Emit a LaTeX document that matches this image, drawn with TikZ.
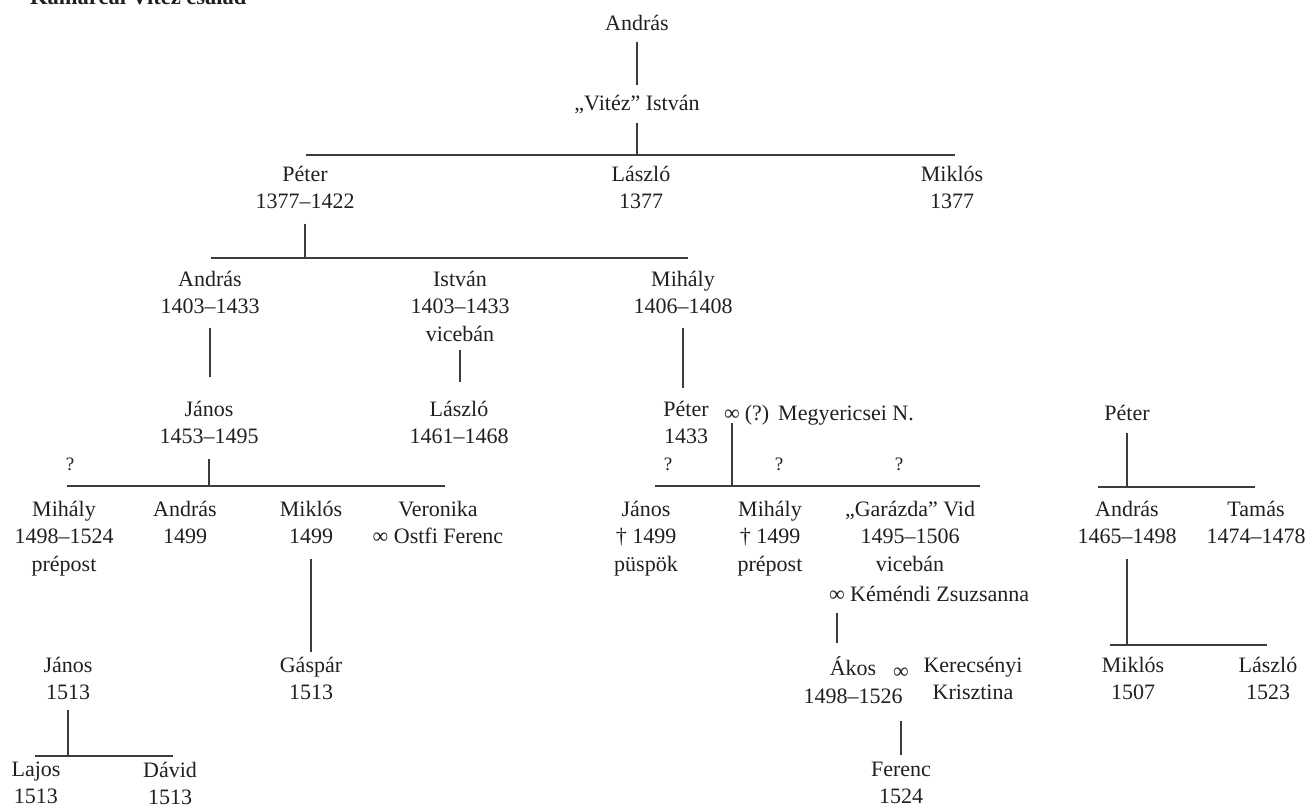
\documentclass[tikz,border=0pt]{standalone}
\usepackage{fontspec}
\setmainfont{Liberation Serif}
\definecolor{txt}{RGB}{35,31,32}
\definecolor{ln}{RGB}{60,60,60}
\newcommand\nf{\fontsize{22}{27.5}\selectfont}
\newcommand\qf{\fontsize{19}{22}\selectfont}
\newcommand\tf{\fontsize{22.5}{27}\selectfont\bfseries}
\begin{document}
\begin{tikzpicture}[x=1pt,y=-1pt,
  nm/.style={anchor=north, inner sep=0pt, outer sep=0pt, align=center, font=\nf, text=txt,
    yshift=19.25pt, execute at begin node=\strut, execute at end node=\strut},
  qm/.style={anchor=base, inner sep=0pt, font=\qf, text=txt},
  conn/.style={draw=ln, line width=1.3pt}]
\path[use as bounding box, fill=white] (0,0) rectangle (1305,811);

% title
\node[anchor=base west, inner sep=0pt, font=\tf, text=txt] (title) at (30,5) {Kamarcai Vitéz család};

% generation 1-2
\node[nm] (a0) at (637,31) {András};
\node[nm] (a1) at (637,110) {„Vitéz” István};
\draw[conn, shorten <=3pt, shorten >=6pt] (a0.south) -- (a1.north);

% bus 1
\coordinate (b1l) at (306,155);
\coordinate (b1r) at (955,155);
\draw[conn] (b1l) -- (b1r);
\draw[conn, shorten <=5pt] (a1.south) -- (a1.south |- b1l);

\node[nm] (b1) at (305,185) {Péter\\1377–1422};
\node[nm] (b2) at (641,185) {László\\1377};
\node[nm] (b3) at (952,185) {Miklós\\1377};

% bus 2
\coordinate (b2l) at (211,258);
\coordinate (b2r) at (688,258);
\draw[conn] (b2l) -- (b2r);
\draw[conn, shorten <=7pt] (b1.south) -- (b1.south |- b2l);

\node[nm] (c1) at (210,290) {András\\1403–1433};
\node[nm] (c2) at (460,290) {István\\1403–1433\\vicebán};
\node[nm] (c3) at (683,290) {Mihály\\1406–1408};

\node[nm] (d1) at (209,420) {János\\1453–1495};
\node[nm] (d2) at (459,420) {László\\1461–1468};
\node[nm] (d3) at (686,420) {Péter\\1433};
\node[nm] (d3m) at (732,420) {∞};
\node[nm] (d3q) at (757,420) {(?)};
\node[nm] (d3w) at (846,420) {Megyericsei N.};
\node[nm] (d4) at (1127,420) {Péter};

\draw[conn, shorten <=6pt, shorten >=24pt] (c1.south) -- (c1.south |- d1.north);
\draw[conn, shorten <=1pt, shorten >=19pt] (c2.south) -- (c2.south |- d2.north);
\draw[conn, shorten <=6pt, shorten >=13pt] (c3.south) -- (c3.south |- d3.north);

% question marks
\node[qm] (q1) at (70,470) {?};
\node[qm] (q2) at (668,470) {?};
\node[qm] (q3) at (779,470) {?};
\node[qm] (q4) at (899,470) {?};

% bus 3
\coordinate (b3l) at (67,486);
\coordinate (b3lr) at (445,486);
\draw[conn] (b3l) -- (b3lr);
\draw[conn, shorten <=7pt] (d1.south) -- (d1.south |- b3l);

\coordinate (b3m) at (655,486);
\coordinate (b3mr) at (980,486);
\draw[conn] (b3m) -- (b3mr);
\coordinate (d3x) at ([yshift=-3pt]d3m.base);
\draw[conn] (d3x) -- (d3x |- b3m);

\coordinate (b3r) at (1098,487);
\coordinate (b3rr) at (1255,487);
\draw[conn] (b3r) -- (b3rr);
\draw[conn, shorten <=5pt] (d4.south) -- (d4.south |- b3r);

% generation e
\node[nm] (e1) at (64,520) {Mihály\\1498–1524\\prépost};
\node[nm] (e2) at (185,520) {András\\1499};
\node[nm] (e3) at (311,520) {Miklós\\1499};
\node[nm] (e4) at (438,520) {Veronika\\∞ Ostfi Ferenc};
\node[nm] (e5) at (646,520) {János\\† 1499\\püspök};
\node[nm] (e6) at (770,520) {Mihály\\† 1499\\prépost};
\node[nm] (e7) at (910,520) {„Garázda” Vid\\1495–1506\\vicebán};
\node[nm, anchor=north west] (e7k) at (829,601) {∞ Kéméndi Zsuzsanna};
\node[nm] (e8) at (1127,520) {András\\1465–1498};
\node[nm] (e9) at (1256,520) {Tamás\\1474–1478};

% generation f
\node[nm] (f1) at (68,676) {János\\1513};
\node[nm] (f2) at (311,676) {Gáspár\\1513};
\node[nm] (f3) at (853,676) {Ákos\\1498–1526};
\node[nm] (f3m) at (901,678) {∞};
\node[nm] (f3w) at (973,676) {Kerecsényi\\Krisztina};
\node[nm] (f4) at (1133,676) {Miklós\\1507};
\node[nm] (f5) at (1268,676) {László\\1523};

\draw[conn, shorten <=7pt, shorten >=5pt] (e3.south) -- (e3.south |- f2.north);
\coordinate (km) at ([xshift=8pt]e7k.south west);
\draw[conn, shorten <=4pt, shorten >=14pt] (km) -- (km |- f3.north);

\coordinate (b4l) at (1110,645);
\coordinate (b4r) at (1267,645);
\draw[conn] (b4l) -- (b4r);
\draw[conn, shorten <=7pt] (e8.south) -- (e8.south |- b4l);

% generation g
\node[nm] (g1) at (36,781) {Lajos\\1513};
\node[nm] (g2) at (170,781) {Dávid\\1513};
\node[nm] (g3) at (901,781) {Ferenc\\1524};

\coordinate (b5l) at (35,756);
\coordinate (b5r) at (173,756);
\draw[conn] (b5l) -- (b5r);
\draw[conn, shorten <=2pt] (f1.south) -- (f1.south |- b5l);
\draw[conn, shorten <=35pt, shorten >=7pt] (f3m.south) -- (f3m.south |- g3.north);
\end{tikzpicture}
\end{document}
